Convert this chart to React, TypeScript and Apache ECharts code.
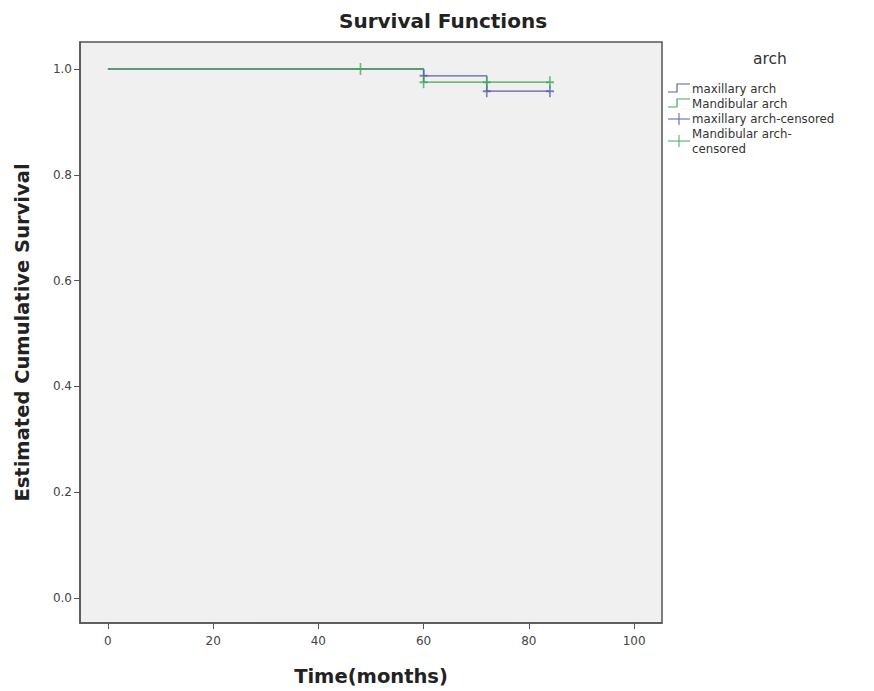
import React, { useEffect, useRef } from "react";
import * as echarts from "echarts";

const xTicks = [0, 20, 40, 60, 80, 100];
const yTicks = [0, 0.2, 0.4, 0.6, 0.8, 1.0];

const maxillaryTimes = [0, 60, 72, 84];
const maxillarySurv = [1.0, 0.987, 0.958, 0.958];
const mandibularTimes = [0, 60, 84];
const mandibularSurv = [1.0, 0.975, 0.975];

const maxillaryCensTimes = [60, 72, 84];
const maxillaryCensSurv = [0.987, 0.958, 0.958];
const mandibularCensTimes = [48, 60, 72, 84];
const mandibularCensSurv = [1.0, 0.975, 0.975, 0.975];

const legendLabels = ["maxillary arch", "Mandibular arch", "maxillary arch-censored", "Mandibular arch-\ncensored"];

const BLUE = "#5b5fae";
const GREEN = "#47a85a";
const PLUS = "path://M-1,-6H1V-1H5V1H1V6H-1V1H-5V-1H-1Z";

const zip = (a: number[], b: number[]) => a.map((v, i) => [v, b[i]]);

export default function App() {
  const ref = useRef<HTMLDivElement>(null);
  useEffect(() => {
    const chart = echarts.init(ref.current!, null, { renderer: "svg" });
    const font = "DejaVu Sans";
    const lx = 668;
    chart.setOption({
      animation: false,
      backgroundColor: "#ffffff",
      title: {
        text: "Survival Functions",
        left: 438,
        textAlign: "center",
        top: 6,
        textStyle: { fontFamily: font, fontWeight: "bold", fontSize: 20, color: "#222" },
      },
      grid: {
        left: 80,
        right: 212,
        top: 42,
        bottom: 68,
        show: true,
        backgroundColor: "#f0f0f0",
        borderColor: "#555",
        borderWidth: 1.5,
      },
      xAxis: {
        type: "value",
        min: -5.3,
        max: 105.3,
        name: "Time(months)",
        nameLocation: "middle",
        nameGap: 43,
        nameTextStyle: { fontFamily: font, fontWeight: "bold", fontSize: 19.5, color: "#222" },
        axisLine: { show: true, onZero: false, lineStyle: { color: "#555", width: 1.5 } },
        axisTick: { show: true, length: 6, customValues: xTicks, lineStyle: { color: "#555" } },
        axisLabel: { customValues: xTicks, fontFamily: font, fontSize: 12, color: "#444", margin: 12 },
        splitLine: { show: false },
      },
      yAxis: {
        type: "value",
        min: -0.047,
        max: 1.051,
        name: "Estimated Cumulative Survival",
        nameLocation: "middle",
        nameGap: 48,
        nameTextStyle: { fontFamily: font, fontWeight: "bold", fontSize: 19.5, color: "#222" },
        axisLine: { show: true, onZero: false, lineStyle: { color: "#555", width: 1.5 } },
        axisTick: { show: true, length: 6, customValues: yTicks, lineStyle: { color: "#555" } },
        axisLabel: {
          customValues: yTicks,
          fontFamily: font,
          fontSize: 12,
          color: "#444",
          margin: 8,
          formatter: (v: number) => v.toFixed(1),
        },
        splitLine: { show: false },
      },
      series: [
        {
          name: legendLabels[0],
          type: "line",
          step: "end",
          data: zip(maxillaryTimes, maxillarySurv),
          showSymbol: false,
          lineStyle: { color: BLUE, width: 1.3 },
          z: 2,
        },
        {
          name: legendLabels[1],
          type: "line",
          step: "end",
          data: zip(mandibularTimes, mandibularSurv),
          showSymbol: false,
          lineStyle: { color: GREEN, width: 1.3 },
          z: 3,
        },
        {
          name: legendLabels[2],
          type: "scatter",
          data: zip(maxillaryCensTimes, maxillaryCensSurv),
          symbol: PLUS,
          symbolSize: [8, 12],
          itemStyle: { color: BLUE },
          z: 4,
        },
        {
          name: legendLabels[3],
          type: "scatter",
          data: zip(mandibularCensTimes, mandibularCensSurv),
          symbol: PLUS,
          symbolSize: [8, 12],
          itemStyle: { color: GREEN },
          z: 5,
        },
      ],
      graphic: [
        { type: "text", left: 753, top: 51, style: { text: "arch", fontFamily: font, fontSize: 15.5, fill: "#333" } },
        { type: "polyline", shape: { points: [[lx, 92], [lx + 9, 92], [lx + 9, 84], [lx + 22, 84]] }, style: { stroke: BLUE, lineWidth: 1.2, fill: "none" } },
        { type: "polyline", shape: { points: [[lx, 107], [lx + 9, 107], [lx + 9, 99], [lx + 22, 99]] }, style: { stroke: GREEN, lineWidth: 1.2, fill: "none" } },
        { type: "line", shape: { x1: lx, y1: 119, x2: lx + 22, y2: 119 }, style: { stroke: BLUE, lineWidth: 1 } },
        { type: "line", shape: { x1: lx + 11, y1: 113, x2: lx + 11, y2: 125 }, style: { stroke: BLUE, lineWidth: 1 } },
        { type: "line", shape: { x1: lx, y1: 141, x2: lx + 22, y2: 141 }, style: { stroke: GREEN, lineWidth: 1 } },
        { type: "line", shape: { x1: lx + 11, y1: 135, x2: lx + 11, y2: 147 }, style: { stroke: GREEN, lineWidth: 1 } },
        {
          type: "text",
          left: 692,
          top: 81,
          style: { text: legendLabels.join("\n"), fontFamily: font, fontSize: 11.8, lineHeight: 15, fill: "#333" },
        },
      ],
    });
    return () => chart.dispose();
  }, []);
  return <div ref={ref} style={{ position: "absolute", left: 0, top: 0, width: 874, height: 691 }} />;
}
